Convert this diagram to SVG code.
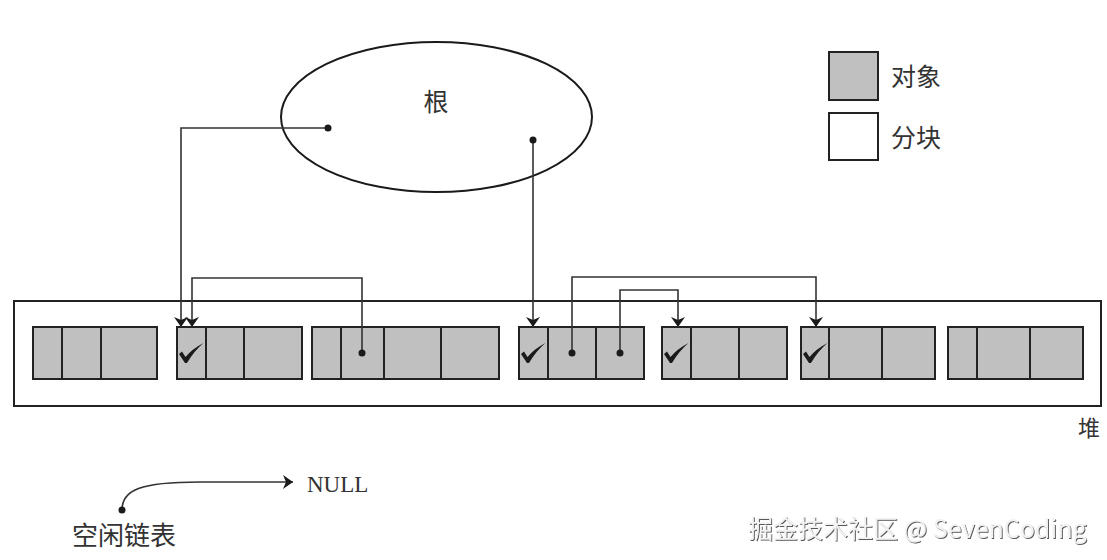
<svg xmlns="http://www.w3.org/2000/svg" width="1107" height="560" viewBox="0 0 1107 560">
<style>
.blk{fill:#c0c0c0;stroke:#222;stroke-width:2}
.div{stroke:#222;stroke-width:2}
.wire{fill:none;stroke:#333;stroke-width:1.6}
.dot{fill:#1a1a1a}
.cj{font-family:"Noto Sans CJK SC","Noto Sans",sans-serif;fill:#333}
.chk{fill:#1a1a1a}
</style>
<defs>
<marker id="ah" viewBox="0 0 10 14" refX="10" refY="7" markerWidth="10" markerHeight="14" markerUnits="userSpaceOnUse" orient="auto">
<path d="M0,0 L10,7 L0,14 L3,7 Z" fill="#1a1a1a"/>
</marker>
<path id="check" d="M2,27 L5,24.5 L8.5,30 Q15,22 26.5,16 Q17,24 10,36 L8,36 Z"/>
<filter id="sh" x="-5%" y="-20%" width="110%" height="140%">
<feDropShadow dx="1" dy="1" stdDeviation="0.6" flood-color="#444" flood-opacity="0.9"/>
</filter>
</defs>

<g id="root">
<ellipse cx="436.5" cy="117" rx="155.5" ry="75" fill="none" stroke="#1a1a1a" stroke-width="2"/>
<text class="cj" x="436" y="111" font-size="25" text-anchor="middle">根</text>
</g>

<g id="legend">
<rect class="blk" x="829" y="52" width="49" height="48"/>
<text class="cj" x="891" y="86" font-size="25">对象</text>
<rect x="829" y="113" width="49" height="47" fill="#fff" stroke="#222" stroke-width="2"/>
<text class="cj" x="891" y="147" font-size="25">分块</text>
</g>

<g id="heap">
<rect x="14" y="301" width="1087" height="105" fill="none" stroke="#222" stroke-width="2"/>
<text class="cj" x="1100" y="436" font-size="22" text-anchor="end">堆</text>
</g>

<g id="block1">
<rect class="blk" x="33" y="327" width="124" height="52"/>
<line class="div" x1="62" y1="327" x2="62" y2="379"/>
<line class="div" x1="101" y1="327" x2="101" y2="379"/>
</g>
<g id="block2">
<rect class="blk" x="177" y="327" width="125" height="52"/>
<line class="div" x1="206" y1="327" x2="206" y2="379"/>
<line class="div" x1="244" y1="327" x2="244" y2="379"/>
<use href="#check" class="chk" x="177" y="327"/>
</g>
<g id="block3">
<rect class="blk" x="312" y="327" width="187" height="52"/>
<line class="div" x1="341" y1="327" x2="341" y2="379"/>
<line class="div" x1="384" y1="327" x2="384" y2="379"/>
<line class="div" x1="441" y1="327" x2="441" y2="379"/>
</g>
<g id="block4">
<rect class="blk" x="519" y="327" width="125" height="52"/>
<line class="div" x1="548" y1="327" x2="548" y2="379"/>
<line class="div" x1="596" y1="327" x2="596" y2="379"/>
<use href="#check" class="chk" x="519" y="327"/>
</g>
<g id="block5">
<rect class="blk" x="662" y="327" width="125" height="52"/>
<line class="div" x1="691" y1="327" x2="691" y2="379"/>
<line class="div" x1="739" y1="327" x2="739" y2="379"/>
<use href="#check" class="chk" x="662" y="327"/>
</g>
<g id="block6">
<rect class="blk" x="801" y="327" width="134" height="52"/>
<line class="div" x1="829" y1="327" x2="829" y2="379"/>
<line class="div" x1="882" y1="327" x2="882" y2="379"/>
<use href="#check" class="chk" x="801" y="327"/>
</g>
<g id="block7">
<rect class="blk" x="948" y="327" width="135" height="52"/>
<line class="div" x1="977" y1="327" x2="977" y2="379"/>
<line class="div" x1="1030" y1="327" x2="1030" y2="379"/>
</g>

<g id="connectors">
<path class="wire" d="M328,128 H181 V327" marker-end="url(#ah)"/>
<path class="wire" d="M362,353 V278 H192 V327" marker-end="url(#ah)"/>
<path class="wire" d="M533,140 V327" marker-end="url(#ah)"/>
<path class="wire" d="M572,353 V277 H816 V327" marker-end="url(#ah)"/>
<path class="wire" d="M620,353 V290 H678 V327" marker-end="url(#ah)"/>
<path class="wire" d="M122,510 C122,490 140,482 200,482 L293,482" marker-end="url(#ah)"/>
<circle class="dot" cx="328" cy="128" r="3.5"/>
<circle class="dot" cx="533" cy="140" r="3.5"/>
<circle class="dot" cx="362" cy="353" r="3.5"/>
<circle class="dot" cx="572" cy="353" r="3.5"/>
<circle class="dot" cx="620" cy="353" r="3.5"/>
<circle class="dot" cx="122" cy="510" r="3.5"/>
</g>

<g id="freelist">
<text x="307" y="492" font-family="Liberation Serif,serif" font-size="23" fill="#333">NULL</text>
<text class="cj" x="72" y="545" font-size="26">空闲链表</text>
</g>

<g id="watermark">
<text x="748" y="538" font-family="Noto Sans CJK SC,Noto Sans,sans-serif" font-size="25" fill="#f2f2f2" filter="url(#sh)">掘金技术社区 @ SevenCoding</text>
</g>
</svg>
